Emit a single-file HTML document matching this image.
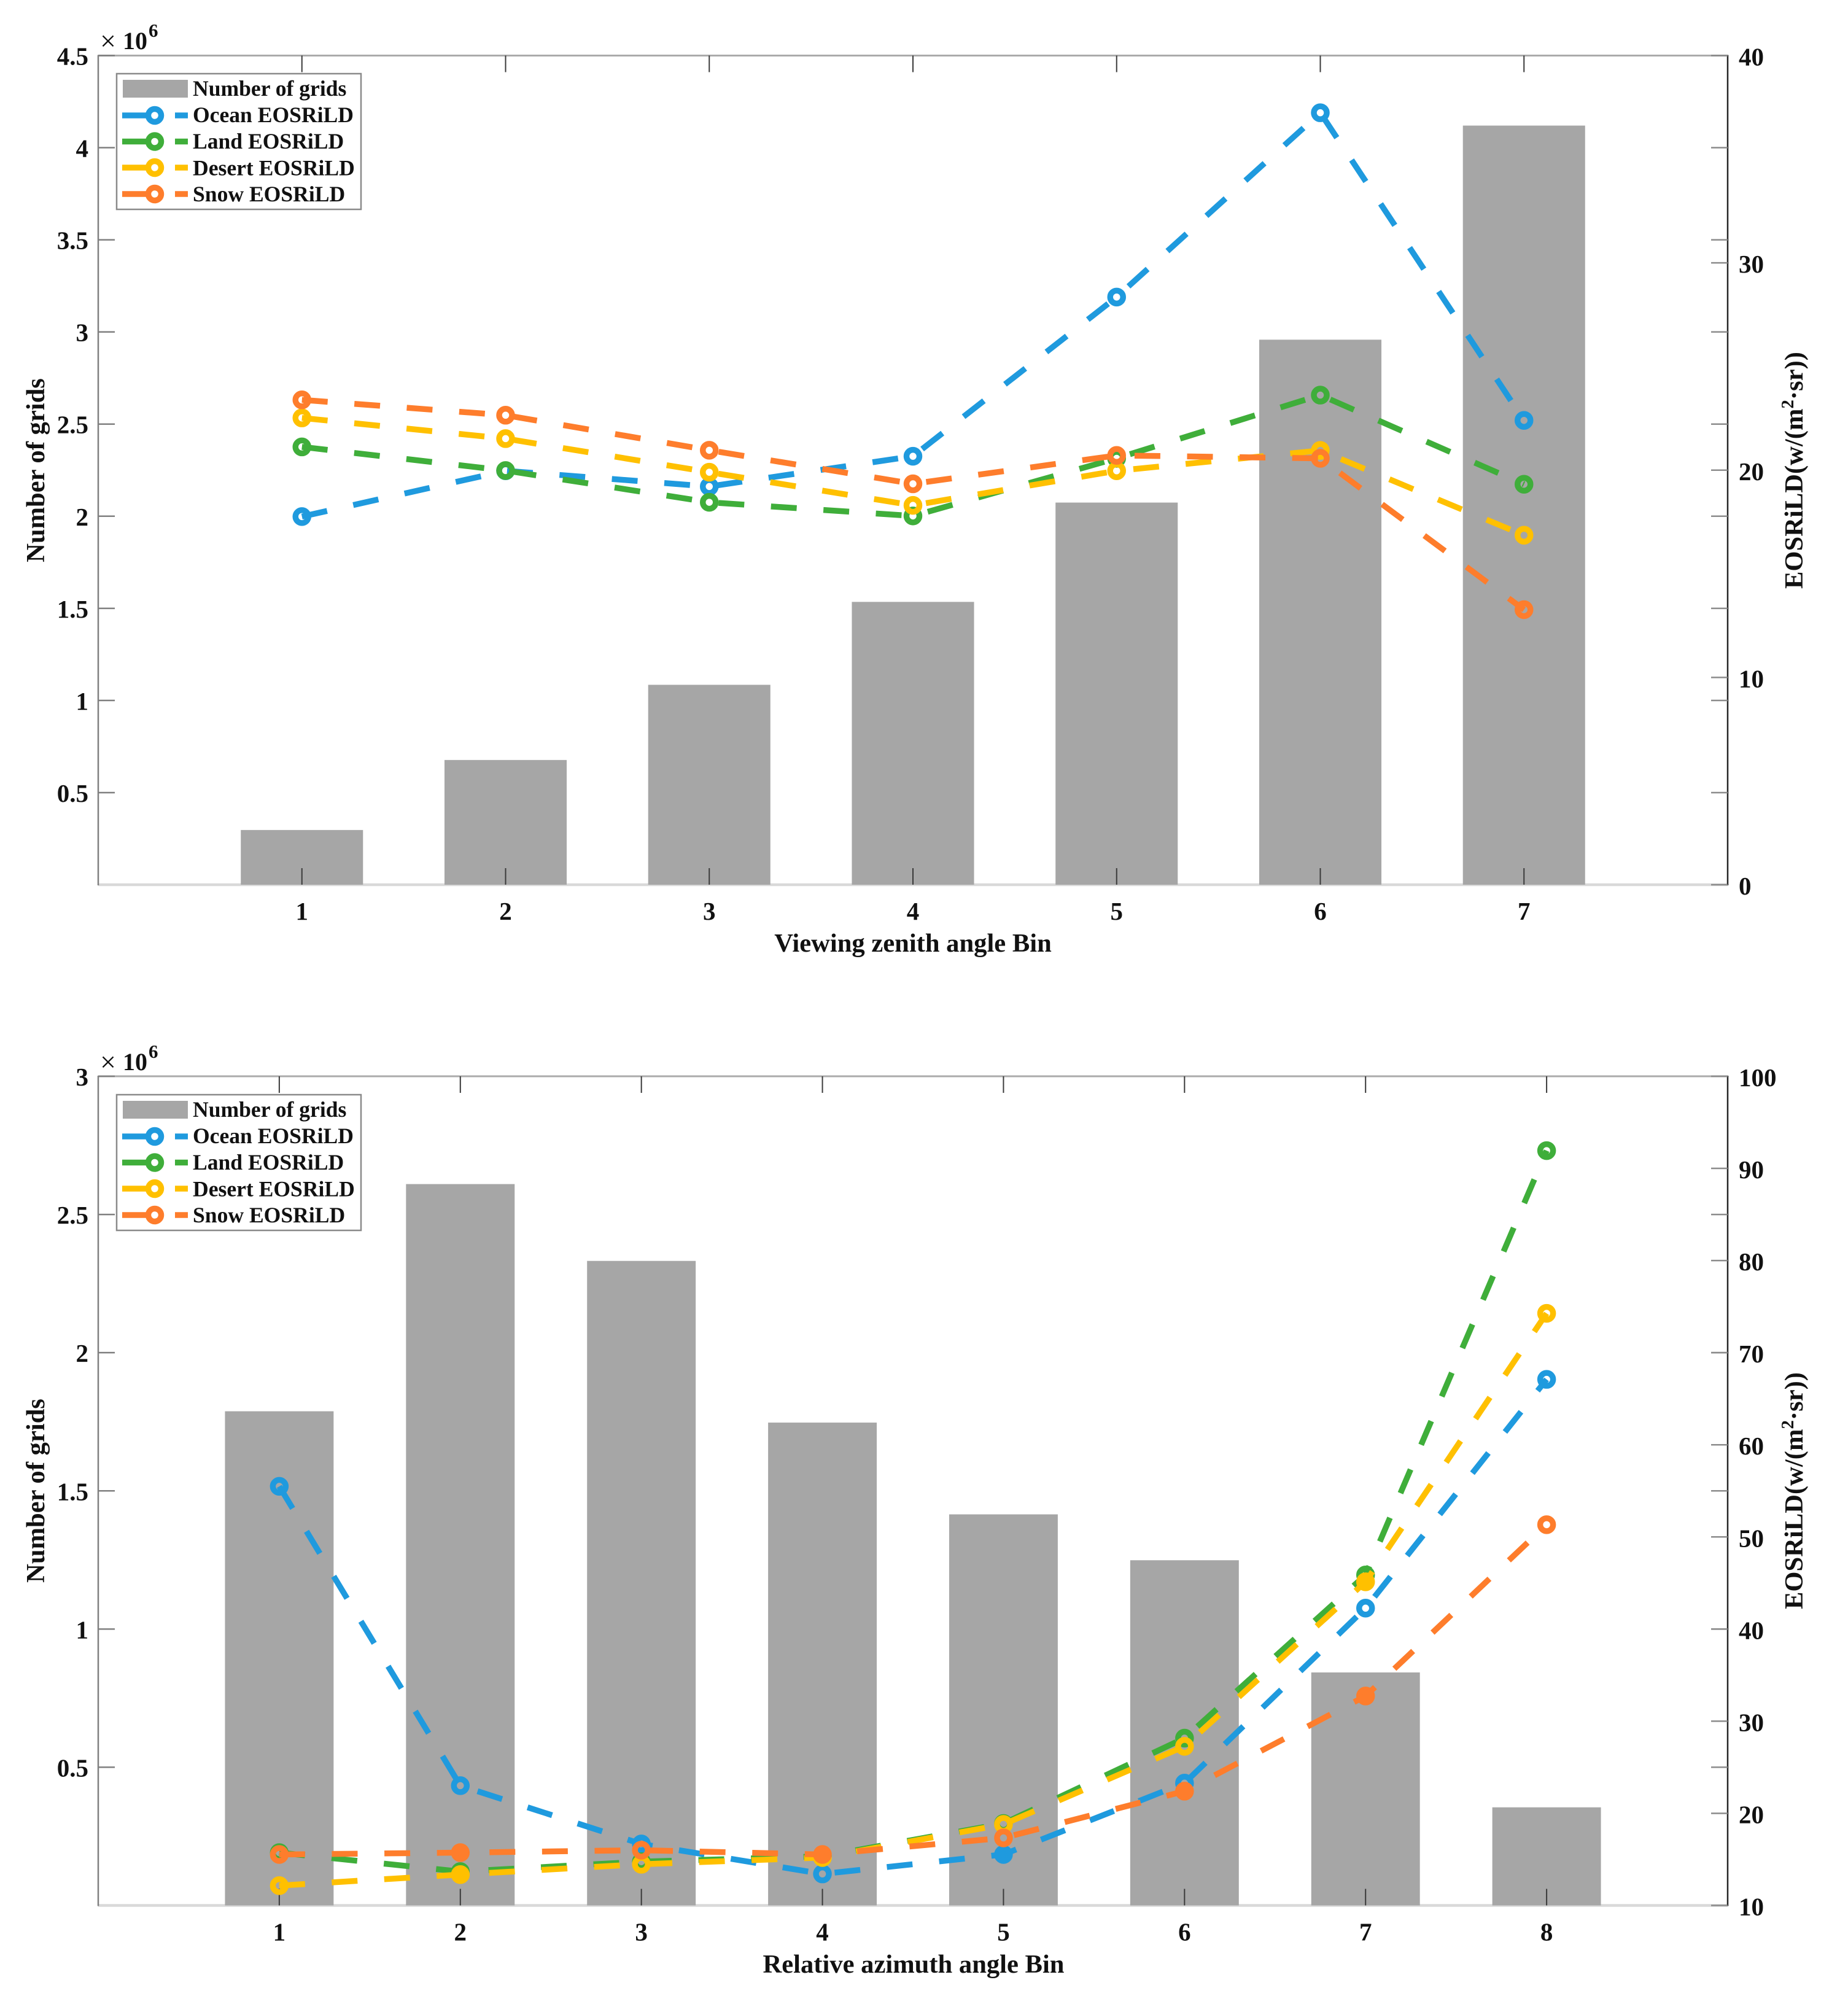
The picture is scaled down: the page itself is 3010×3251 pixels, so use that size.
<!DOCTYPE html>
<html lang="en">
<head>
<meta charset="utf-8">
<title>EOSRiLD by viewing zenith and relative azimuth angle bins</title>
<style>
html,body{margin:0;padding:0;background:#fff;}
svg{display:block;}
text{font-family:"Liberation Serif","DejaVu Serif",serif;fill:#111;}
.bold{font-weight:bold;}
.title{font-weight:bold;font-size:42.6px;}
.leg{font-weight:bold;font-size:35.6px;}
</style>
</head>
<body>
<svg id="figure" width="3010" height="3251" viewBox="0 0 3010 3251" xmlns="http://www.w3.org/2000/svg">
  <rect x="0" y="0" width="3010" height="3251" fill="#ffffff"/>

  <g id="chart-top">
    <g id="top-frame"></g>
    <g id="top-bars"></g>
    <g id="top-ticks"></g>
    <g id="top-lines"></g>
    <text x="163" y="82" font-size="46">×</text>
    <text x="200" y="80" font-size="40" font-weight="bold">10</text>
    <text x="242" y="60" font-size="31" font-weight="bold">6</text>
    <text class="title" x="1487" y="1550" text-anchor="middle">Viewing zenith angle Bin</text>
    <text class="title" x="72" y="766" text-anchor="middle" transform="rotate(-90 72 766)">Number of grids</text>
    <text class="title" x="2936" y="766" text-anchor="middle" transform="rotate(-90 2936 766)">EOSRiLD(w/(m<tspan dy="-15" font-size="29">2</tspan><tspan dy="15">·sr))</tspan></text>
    <g>
      <rect x="190" y="120" width="398" height="221" fill="#ffffff" stroke="#8a8a8a" stroke-width="2.5"/>
      <rect x="200" y="130" width="106" height="29" fill="#a6a6a6"/>
      <text class="leg" x="314" y="156">Number of grids</text>
      <g>
        <line x1="199" y1="188" x2="241" y2="188" stroke="#1f9ade" stroke-width="9.5"/>
        <line x1="285" y1="188" x2="306" y2="188" stroke="#1f9ade" stroke-width="9.5"/>
        <circle cx="252" cy="188" r="10.5" fill="none" stroke="#1f9ade" stroke-width="9.5"/>
        <text class="leg" x="314" y="199">Ocean EOSRiLD</text>
      </g>
      <g>
        <line x1="199" y1="230.5" x2="241" y2="230.5" stroke="#3fae3a" stroke-width="9.5"/>
        <line x1="285" y1="230.5" x2="306" y2="230.5" stroke="#3fae3a" stroke-width="9.5"/>
        <circle cx="252" cy="230.5" r="10.5" fill="none" stroke="#3fae3a" stroke-width="9.5"/>
        <text class="leg" x="314" y="242">Land EOSRiLD</text>
      </g>
      <g>
        <line x1="199" y1="273" x2="241" y2="273" stroke="#ffc000" stroke-width="9.5"/>
        <line x1="285" y1="273" x2="306" y2="273" stroke="#ffc000" stroke-width="9.5"/>
        <circle cx="252" cy="273" r="10.5" fill="none" stroke="#ffc000" stroke-width="9.5"/>
        <text class="leg" x="314" y="285.5">Desert EOSRiLD</text>
      </g>
      <g>
        <line x1="199" y1="316" x2="241" y2="316" stroke="#fe7d2c" stroke-width="9.5"/>
        <line x1="285" y1="316" x2="306" y2="316" stroke="#fe7d2c" stroke-width="9.5"/>
        <circle cx="252" cy="316" r="10.5" fill="none" stroke="#fe7d2c" stroke-width="9.5"/>
        <text class="leg" x="314" y="328">Snow EOSRiLD</text>
      </g>
    </g>
  </g>

  <g id="chart-bottom">
    <g id="bottom-frame"></g>
    <g id="bottom-bars"></g>
    <g id="bottom-ticks"></g>
    <g id="bottom-lines"></g>
    <text x="163" y="1745" font-size="46">×</text>
    <text x="200" y="1743" font-size="40" font-weight="bold">10</text>
    <text x="242" y="1723" font-size="31" font-weight="bold">6</text>
    <text class="title" x="1488" y="3213" text-anchor="middle">Relative azimuth angle Bin</text>
    <text class="title" x="72" y="2428" text-anchor="middle" transform="rotate(-90 72 2428)">Number of grids</text>
    <text class="title" x="2936" y="2428" text-anchor="middle" transform="rotate(-90 2936 2428)">EOSRiLD(w/(m<tspan dy="-15" font-size="29">2</tspan><tspan dy="15">·sr))</tspan></text>
    <g transform="translate(0,1663)">
      <rect x="190" y="120" width="398" height="221" fill="#ffffff" stroke="#8a8a8a" stroke-width="2.5"/>
      <rect x="200" y="130" width="106" height="29" fill="#a6a6a6"/>
      <text class="leg" x="314" y="156">Number of grids</text>
      <g>
        <line x1="199" y1="188" x2="241" y2="188" stroke="#1f9ade" stroke-width="9.5"/>
        <line x1="285" y1="188" x2="306" y2="188" stroke="#1f9ade" stroke-width="9.5"/>
        <circle cx="252" cy="188" r="10.5" fill="none" stroke="#1f9ade" stroke-width="9.5"/>
        <text class="leg" x="314" y="199">Ocean EOSRiLD</text>
      </g>
      <g>
        <line x1="199" y1="230.5" x2="241" y2="230.5" stroke="#3fae3a" stroke-width="9.5"/>
        <line x1="285" y1="230.5" x2="306" y2="230.5" stroke="#3fae3a" stroke-width="9.5"/>
        <circle cx="252" cy="230.5" r="10.5" fill="none" stroke="#3fae3a" stroke-width="9.5"/>
        <text class="leg" x="314" y="242">Land EOSRiLD</text>
      </g>
      <g>
        <line x1="199" y1="273" x2="241" y2="273" stroke="#ffc000" stroke-width="9.5"/>
        <line x1="285" y1="273" x2="306" y2="273" stroke="#ffc000" stroke-width="9.5"/>
        <circle cx="252" cy="273" r="10.5" fill="none" stroke="#ffc000" stroke-width="9.5"/>
        <text class="leg" x="314" y="285.5">Desert EOSRiLD</text>
      </g>
      <g>
        <line x1="199" y1="316" x2="241" y2="316" stroke="#fe7d2c" stroke-width="9.5"/>
        <line x1="285" y1="316" x2="306" y2="316" stroke="#fe7d2c" stroke-width="9.5"/>
        <circle cx="252" cy="316" r="10.5" fill="none" stroke="#fe7d2c" stroke-width="9.5"/>
        <text class="leg" x="314" y="328">Snow EOSRiLD</text>
      </g>
    </g>
  </g>
</svg>

<script>
// ---- Top chart data (viewing zenith angle bins) ----
const topBins = [1, 2, 3, 4, 5, 6, 7];
const topGrids = [0.297, 0.677, 1.085, 1.535, 2.074, 2.958, 4.12];
const topOcean = [17.76, 19.97, 19.21, 20.67, 28.35, 37.24, 22.4];
const topLand = [21.12, 19.98, 18.45, 17.79, 20.57, 23.62, 19.32];
const topDesert = [22.52, 21.52, 19.9, 18.3, 19.97, 20.95, 16.86];
const topSnow = [23.39, 22.65, 20.96, 19.34, 20.71, 20.57, 13.27];
const topLeftTicks = [0.5, 1, 1.5, 2, 2.5, 3, 3.5, 4, 4.5];
const topLeftLabels = ['0.5', '1', '1.5', '2', '2.5', '3', '3.5', '4', '4.5'];
const topRightTicks = [0, 10, 20, 30, 40];
const topRightLabels = ['0', '10', '20', '30', '40'];

// ---- Bottom chart data (relative azimuth angle bins) ----
const bottomBins = [1, 2, 3, 4, 5, 6, 7, 8];
const bottomGrids = [1.788, 2.61, 2.332, 1.747, 1.415, 1.249, 0.843, 0.355];
const bottomOcean = [55.49, 23.0, 16.67, 13.42, 15.53, 23.28, 42.27, 67.1];
const bottomLand = [15.73, 13.67, 14.75, 15.33, 18.9, 28.16, 45.87, 91.93];
const bottomDesert = [12.15, 13.35, 14.47, 15.2, 18.8, 27.27, 45.13, 74.27];
const bottomSnow = [15.53, 15.73, 16.0, 15.53, 17.33, 22.4, 32.73, 51.33];
const bottomLeftTicks = [0.5, 1, 1.5, 2, 2.5, 3];
const bottomLeftLabels = ['0.5', '1', '1.5', '2', '2.5', '3'];
const bottomRightTicks = [10, 20, 30, 40, 50, 60, 70, 80, 90, 100];
const bottomRightLabels = ['10', '20', '30', '40', '50', '60', '70', '80', '90', '100'];

const NS = 'http://www.w3.org/2000/svg';

function make(parent, tag, attrs, text) {
  const el = document.createElementNS(NS, tag);
  for (const k in attrs) el.setAttribute(k, attrs[k]);
  if (text !== undefined) el.textContent = text;
  parent.appendChild(el);
  return el;
}

function drawChart(prefix, opt) {
  const frame = document.getElementById(prefix + '-frame');
  const barsG = document.getElementById(prefix + '-bars');
  const ticksG = document.getElementById(prefix + '-ticks');
  const linesG = document.getElementById(prefix + '-lines');

  const L = 160, R = 2814, T = opt.top, B = opt.top + 1350.5;
  const xScale = b => L + (b - 0) * (R - L) / opt.xMax;
  const yLeft = v => B - (v / opt.leftMax) * (B - T);
  const yRight = v => B - ((v - opt.rightMin) / (opt.rightMax - opt.rightMin)) * (B - T);

  // axis lines
  let el = make(frame, 'line', {x1: L, y1: B, x2: R, y2: B, stroke: '#d9d9d9', 'stroke-width': 4.5});
  
  
  el = make(frame, 'line', {x1: L, y1: T, x2: R, y2: T, stroke: '#ababab', 'stroke-width': 3});
  
  

  // bars
  const barW = 0.6 * (R - L) / opt.xMax;
  opt.bins.forEach((bin, i) => {
    const y = yLeft(opt.grids[i]);
    const bar = make(barsG, 'rect', {x: xScale(bin) - barW / 2, y: y, width: barW, height: B - y, fill: '#a6a6a6'});
    
    
  });

  el = make(ticksG, 'line', {x1: L, y1: T - 1, x2: L, y2: B + 1, stroke: '#808080', 'stroke-width': 2.5});
  
  
  el = make(ticksG, 'line', {x1: R, y1: T - 1, x2: R, y2: B + 1, stroke: '#262626', 'stroke-width': 2.5});
  
  

  // x ticks (bottom & top) and labels
  opt.bins.forEach(bin => {
    const x = xScale(bin);
    let t = make(ticksG, 'line', {x1: x, y1: B, x2: x, y2: B - 27, stroke: '#3a3a3a', 'stroke-width': 2});
    
    
    t = make(ticksG, 'line', {x1: x, y1: T, x2: x, y2: T + 27, stroke: '#3a3a3a', 'stroke-width': 2});
    
    
    const lab = make(ticksG, 'text', {x: x, y: B + 57, 'text-anchor': 'middle', 'font-size': 41, 'font-weight': 'bold'}, String(bin));
    
    
  });

  // left ticks & labels (mirrored onto right side)
  opt.leftTicks.forEach((v, i) => {
    const y = yLeft(v);
    let t = make(ticksG, 'line', {x1: L, y1: y, x2: L + 27, y2: y, stroke: '#808080', 'stroke-width': 2.5});
    
    
    t = make(ticksG, 'line', {x1: R, y1: y, x2: R - 27, y2: y, stroke: '#8c8c8c', 'stroke-width': 2.5});
    
    
    const lab = make(ticksG, 'text', {x: 144, y: y + 15, 'text-anchor': 'end', 'font-size': 41, 'font-weight': 'bold'}, opt.leftLabels[i]);
    
    
  });

  // right ticks & labels
  opt.rightTicks.forEach((v, i) => {
    const y = yRight(v);
    const t = make(ticksG, 'line', {x1: R, y1: y, x2: R - 27, y2: y, stroke: '#8c8c8c', 'stroke-width': 2.5});
    
    
    const lab = make(ticksG, 'text', {x: 2832, y: y + 16, 'font-size': 41, 'font-weight': 'bold'}, opt.rightLabels[i]);
    
    
  });

  // series
  opt.series.forEach(s => {
    const pts = opt.bins.map((bin, i) => xScale(bin).toFixed(1) + ',' + yRight(s.values[i]).toFixed(1)).join(' ');
    const line = make(linesG, 'polyline', {points: pts, fill: 'none', stroke: s.color, 'stroke-width': 9.5, 'stroke-dasharray': '42 43.6', 'stroke-linejoin': 'round'});
    
    
    opt.bins.forEach((bin, i) => {
      const solid = s.solid && s.solid.indexOf(bin) >= 0;
      const m = make(linesG, 'circle', {cx: xScale(bin), cy: yRight(s.values[i]), r: 10.5, fill: solid ? s.color : 'none', stroke: s.color, 'stroke-width': 9.5});
      
      
    });
  });
}

drawChart('top', {
  top: 90.5, xMax: 8, leftMax: 4.5, rightMin: 0, rightMax: 40,
  bins: topBins, grids: topGrids,
  leftTicks: topLeftTicks, leftLabels: topLeftLabels,
  rightTicks: topRightTicks, rightLabels: topRightLabels,
  series: [
    {name: 'ocean', color: '#1f9ade', values: topOcean},
    {name: 'land', color: '#3fae3a', values: topLand},
    {name: 'desert', color: '#ffc000', values: topDesert},
    {name: 'snow', color: '#fe7d2c', values: topSnow}
  ]
});

drawChart('bottom', {
  top: 1753, xMax: 9, leftMax: 3, rightMin: 10, rightMax: 100,
  bins: bottomBins, grids: bottomGrids,
  leftTicks: bottomLeftTicks, leftLabels: bottomLeftLabels,
  rightTicks: bottomRightTicks, rightLabels: bottomRightLabels,
  series: [
    {name: 'ocean', color: '#1f9ade', values: bottomOcean, solid: [5]},
    {name: 'land', color: '#3fae3a', values: bottomLand},
    {name: 'desert', color: '#ffc000', values: bottomDesert, solid: [2, 7]},
    {name: 'snow', color: '#fe7d2c', values: bottomSnow, solid: [2, 4, 6, 7]}
  ]
});
</script>
</body>
</html>
